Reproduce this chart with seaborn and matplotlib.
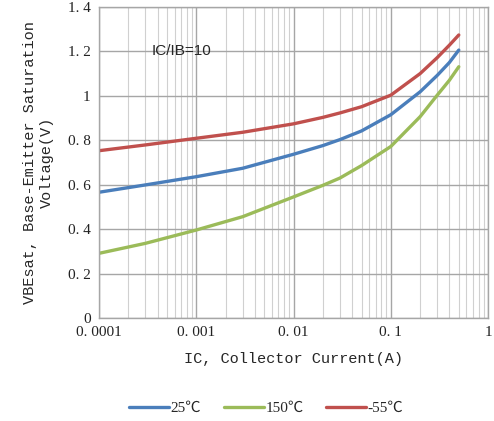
import numpy as np
import pandas as pd
import seaborn as sns
import matplotlib.pyplot as plt
from matplotlib.ticker import FixedLocator, LogLocator, NullFormatter

# collector current (A)
ic = [0.0001, 0.0003, 0.001, 0.003, 0.01, 0.02, 0.03, 0.05, 0.1, 0.2, 0.3, 0.4, 0.5]
vbe_25 = [0.566, 0.599, 0.636, 0.674, 0.737, 0.776, 0.803, 0.842, 0.915, 1.018, 1.092, 1.150, 1.206]
vbe_150 = [0.291, 0.336, 0.396, 0.456, 0.545, 0.597, 0.630, 0.686, 0.772, 0.906, 1.003, 1.070, 1.131]
vbe_m55 = [0.753, 0.779, 0.809, 0.836, 0.874, 0.903, 0.923, 0.951, 1.003, 1.100, 1.172, 1.228, 1.274]
temps = ['25℃', '150℃', '-55℃']
colors = ['#4a7ebb', '#9bbb59', '#c0504d']

df = pd.DataFrame({
    'IC': ic * 3,
    'VBE': vbe_25 + vbe_150 + vbe_m55,
    'Temp': np.repeat(temps, len(ic)),
})

sns.set_style("white")
plt.rcParams['font.family'] = ['Liberation Serif', 'Noto Sans CJK SC', 'DejaVu Sans']

fig = plt.figure(figsize=(4.94, 4.21), dpi=100)
ax = fig.add_axes([0.2004, 0.2447, 0.7876, 0.7387])

sns.lineplot(data=df, x='IC', y='VBE', hue='Temp', hue_order=temps,
             palette=colors, linewidth=2.4, ax=ax, legend=True, sort=True)

ax.set_xscale('log')
ax.set_xlim(0.0001, 1)
ax.set_ylim(0, 1.4)

ax.xaxis.set_major_locator(FixedLocator([0.0001, 0.001, 0.01, 0.1, 1]))
ax.set_xticklabels(['0. 0001', '0. 001', '0. 01', '0. 1', '1'])
ax.xaxis.set_minor_locator(LogLocator(base=10, subs=np.arange(2, 10)))
ax.xaxis.set_minor_formatter(NullFormatter())
yt = [0, 0.2, 0.4, 0.6, 0.8, 1.0, 1.2, 1.4]
ax.set_yticks(yt)
ax.set_yticklabels(['0', '0. 2', '0. 4', '0. 6', '0. 8', '1', '1. 2', '1. 4'])

ax.grid(which='major', color='#a6a6a6', linewidth=1.0)
ax.grid(which='minor', axis='x', color='#d0d0d0', linewidth=0.8)
ax.set_axisbelow(True)
for s in ax.spines.values():
    s.set_color('#a6a6a6')
    s.set_linewidth(1.0)

ax.tick_params(axis='both', which='both', length=0, labelsize=11, labelcolor='#222222', pad=6)

ax.set_xlabel('IC, Collector Current(A)', fontsize=11, labelpad=9, family='Liberation Mono')
ax.set_ylabel('VBEsat, Base-Emitter Saturation\nVoltage(V)', fontsize=11, labelpad=10,
              family='Liberation Mono', linespacing=1.25)

ax.text(0.00035, 1.2, 'IC/IB=10', fontsize=11, family='Liberation Sans', va='center', ha='left')

handles, labels = ax.get_legend_handles_labels()
ax.legend(handles, labels, loc='center', bbox_to_anchor=(0.43, -0.29), ncol=3, frameon=False,
          handlelength=2.6, handletextpad=0.1, columnspacing=1.5,
          prop={'family': ['Liberation Serif', 'Noto Sans CJK SC'], 'size': 11})

fig.savefig('out.png', dpi=100)
